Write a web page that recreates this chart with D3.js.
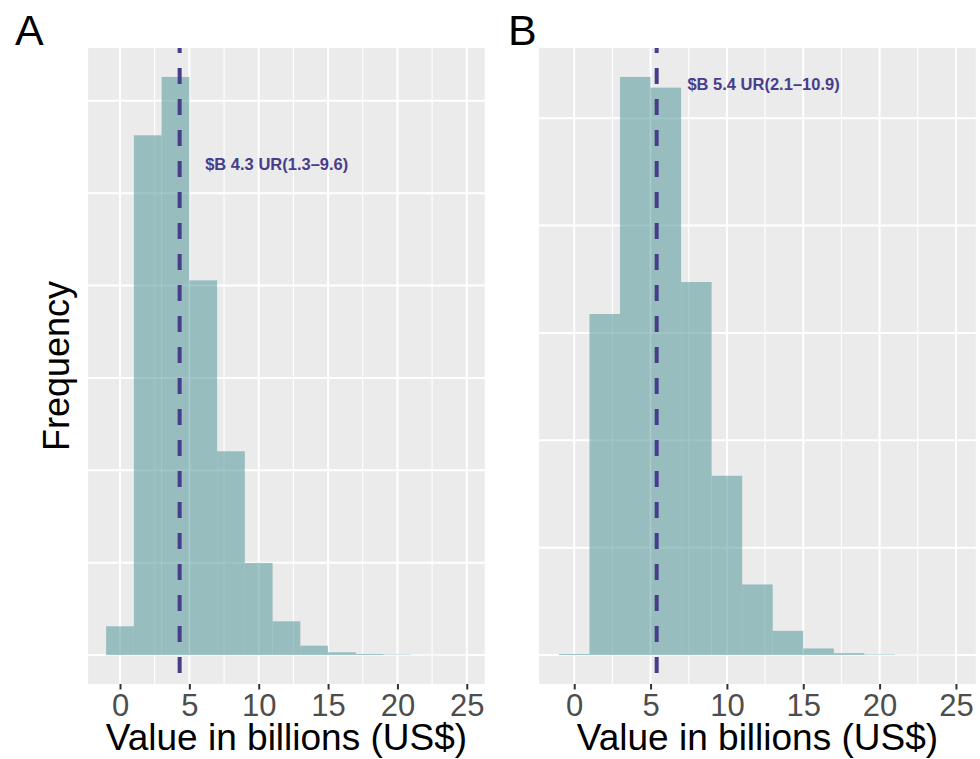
<!DOCTYPE html>
<html>
<head>
<meta charset="utf-8">
<script src="https://cdn.jsdelivr.net/npm/d3@7"></script>
<style>
	body { margin: 0; background: white; }
	text { font-family: "Liberation Sans", Arial, Helvetica, sans-serif; }
</style>
</head>
<body>
<script>
// histogram bins: each bin starts here and is 2 billion wide
var binStarts = [-1, 1, 3, 5, 7, 9, 11, 13, 15, 17, 19, 21, 23]
var binWidth = 2
var countsA = [156, 2813, 3129, 2028, 1103, 499, 183, 51, 15, 6, 3, 1, 1]
var countsB = [5, 1588, 2692, 2642, 1737, 835, 329, 113, 31, 9, 3, 1, 1]
var means = [4.3, 5.4]
var annotations = ["$B 4.3 UR(1.3\u20139.6)", "$B 5.4 UR(2.1\u201310.9)"]
var panelLabels = ["A", "B"]
var xTicks = [0, 5, 10, 15, 20, 25]
var xTitle = "Value in billions (US$)"
var yTitle = "Frequency"

var w = 980
var h = 759
var plotTop = 48
var plotBottom = 684

function main() {
	var svg = d3.select("body")
		.append("svg")
		.attr("width", w)
		.attr("height", h)

	svg.append("rect")
		.attr("width", w)
		.attr("height", h)
		.attr("fill", "white")

	plotPanel(svg, countsA, means[0], annotations[0], panelLabels[0], [88.1, 484.8], 15)
	plotPanel(svg, countsB, means[1], annotations[1], panelLabels[1], [539.1, 975.8], 508)

	svg.append("text")
		.attr("transform", "translate(69," + ((plotTop + plotBottom) / 2) + ") rotate(-90)")
		.style("text-anchor", "middle")
		.style("font-size", "36px")
		.attr("fill", "black")
		.text(yTitle)
}

function plotPanel(svg, counts, mean, label, letter, xRange, letterX) {
	var xMin = d3.min(binStarts)
	var xMax = d3.max(binStarts) + binWidth
	var xPad = (xMax - xMin) * 0.05
	var yMax = d3.max(counts)

	var xScale = d3.scaleLinear()
		.domain([xMin - xPad, xMax + xPad])
		.range(xRange)

	var yScale = d3.scaleLinear()
		.domain([-0.05 * yMax, 1.05 * yMax])
		.range([plotBottom, plotTop])

	var g = svg.append("g")

	g.append("rect")
		.attr("x", xRange[0])
		.attr("y", plotTop)
		.attr("width", xRange[1] - xRange[0])
		.attr("height", plotBottom - plotTop)
		.attr("fill", "#EBEBEB")

	// minor vertical grid, half way between the ticks
	var xMinor = xTicks.map((d) => d + 2.5).concat([xTicks[0] - 2.5])
		.filter((d) => d > xScale.domain()[0] && d < xScale.domain()[1])
	g.selectAll(".xminor")
		.data(xMinor)
		.enter().append("line")
		.attr("class", "xminor")
		.attr("x1", (d) => xScale(d))
		.attr("x2", (d) => xScale(d))
		.attr("y1", plotTop)
		.attr("y2", plotBottom)
		.attr("stroke", "white")
		.attr("stroke-width", 1.1)

	g.selectAll(".xmajor")
		.data(xTicks)
		.enter().append("line")
		.attr("class", "xmajor")
		.attr("x1", (d) => xScale(d))
		.attr("x2", (d) => xScale(d))
		.attr("y1", plotTop)
		.attr("y2", plotBottom)
		.attr("stroke", "white")
		.attr("stroke-width", 2)

	g.selectAll(".ymajor")
		.data(d3.range(0, yScale.domain()[1], 500))
		.enter().append("line")
		.attr("class", "ymajor")
		.attr("x1", xRange[0])
		.attr("x2", xRange[1])
		.attr("y1", (d) => yScale(d))
		.attr("y2", (d) => yScale(d))
		.attr("stroke", "white")
		.attr("stroke-width", 2)

	g.selectAll(".bar")
		.data(counts)
		.enter().append("rect")
		.attr("class", "bar")
		.attr("x", (d, i) => xScale(binStarts[i]))
		.attr("width", (d, i) => xScale(binStarts[i] + binWidth) - xScale(binStarts[i]))
		.attr("y", (d) => yScale(d))
		.attr("height", (d) => yScale(0) - yScale(d))
		.attr("fill", "#5F9EA0")
		.attr("fill-opacity", 0.6)

	g.append("line")
		.attr("x1", xScale(mean))
		.attr("x2", xScale(mean))
		.attr("y1", plotTop)
		.attr("y2", plotBottom)
		.attr("stroke", "#483D8B")
		.attr("stroke-width", 4)
		.attr("stroke-dasharray", "16 15")
		.attr("stroke-dashoffset", 11)

	g.append("text")
		.attr("x", xScale(mean + 7))
		.attr("y", yScale(2660))
		.attr("dy", "0.36em")
		.style("text-anchor", "middle")
		.style("font-size", "16.5px")
		.style("font-weight", "bold")
		.attr("fill", "#483D8B")
		.text(label)

	var xAxis = d3.axisBottom(xScale)
		.tickValues(xTicks)
		.tickSize(5.5)
		.tickPadding(4)

	var axis = g.append("g")
		.attr("transform", "translate(0," + plotBottom + ")")
		.call(xAxis)
	axis.select(".domain").remove()
	axis.selectAll(".tick line")
		.attr("stroke", "#333333")
		.attr("stroke-width", 2)
	axis.selectAll(".tick text")
		.attr("fill", "#4D4D4D")
		.style("font-size", "31px")
		.style("font-family", "'Liberation Sans', Arial, Helvetica, sans-serif")

	g.append("text")
		.attr("x", (xRange[0] + xRange[1]) / 2)
		.attr("y", 750)
		.style("text-anchor", "middle")
		.style("font-size", "37px")
		.attr("fill", "black")
		.text(xTitle)

	g.append("text")
		.attr("x", letterX)
		.attr("y", 45)
		.style("font-size", "43px")
		.attr("fill", "black")
		.text(letter)
}

main()
</script>
</body>
</html>
